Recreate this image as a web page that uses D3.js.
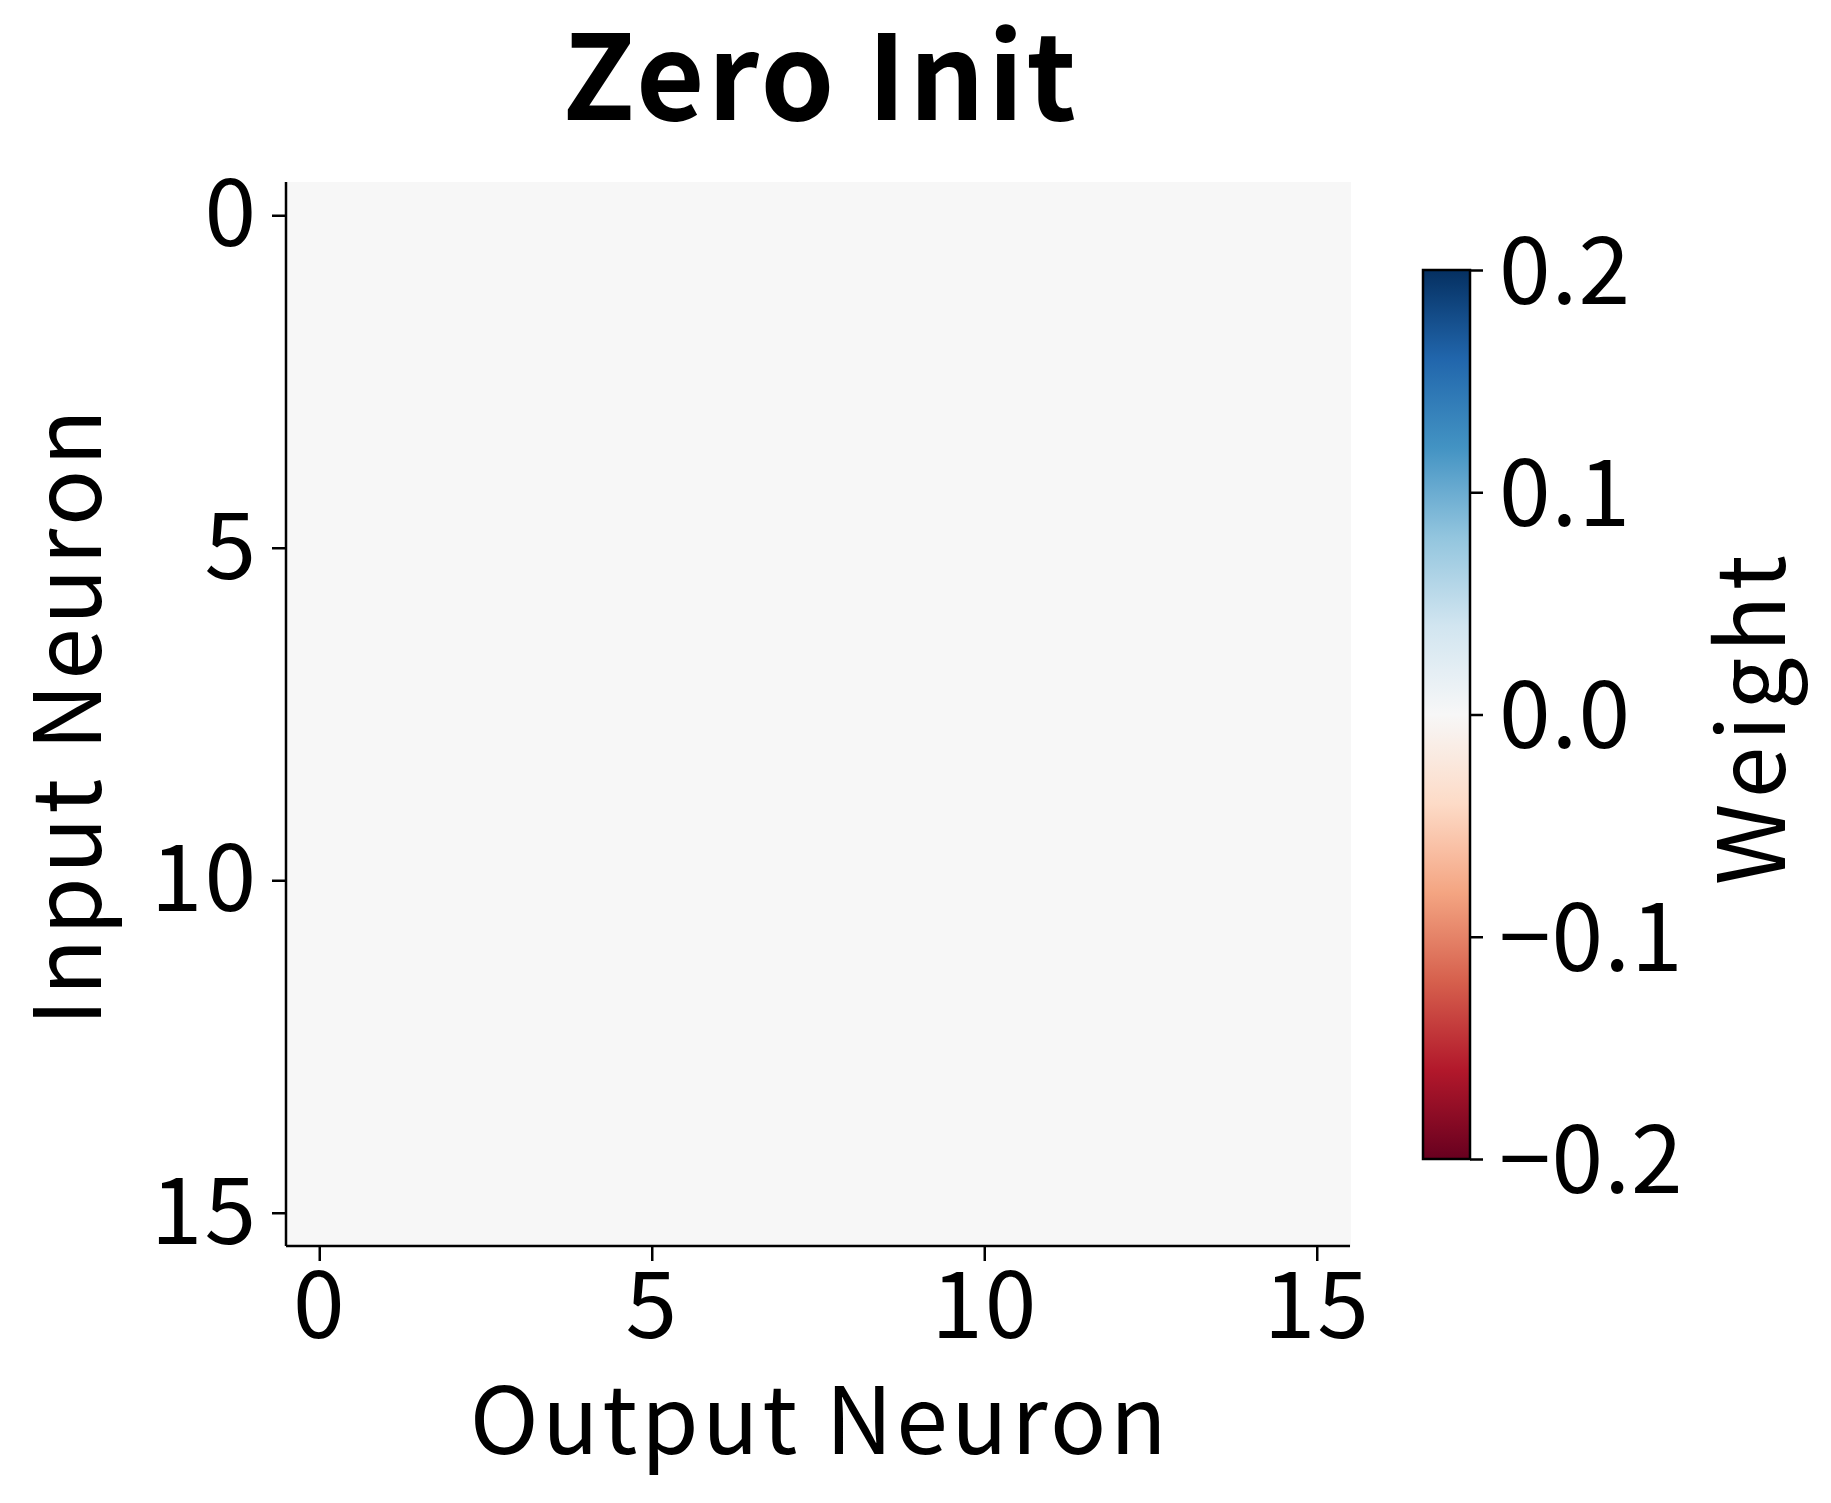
<!DOCTYPE html>
<html><head><meta charset="utf-8">
<script src="https://cdn.jsdelivr.net/npm/d3@7"></script>
<style>body{margin:0;background:#fff}svg{display:block}text{font-family:"Noto Sans CJK JP","Noto Sans",sans-serif;fill:#000}</style>
</head><body>
<script>
const title = "Zero Init";
const xLabel = "Output Neuron";
const yLabel = "Input Neuron";
const cbLabel = "Weight";
const xTicks = [0, 5, 10, 15];
const yTicks = [0, 5, 10, 15];
const cbTicks = [-0.2, -0.1, 0.0, 0.1, 0.2];
const cbDomain = [-0.2, 0.2];
const rdbuColors = ["#67001f","#b2182b","#d6604d","#f4a582","#fddbc7","#f7f7f7","#d1e5f0","#92c5de","#4393c3","#2166ac","#053061"];
const weights = [
[0,0,0,0,0,0,0,0,0,0,0,0,0,0,0,0],
[0,0,0,0,0,0,0,0,0,0,0,0,0,0,0,0],
[0,0,0,0,0,0,0,0,0,0,0,0,0,0,0,0],
[0,0,0,0,0,0,0,0,0,0,0,0,0,0,0,0],
[0,0,0,0,0,0,0,0,0,0,0,0,0,0,0,0],
[0,0,0,0,0,0,0,0,0,0,0,0,0,0,0,0],
[0,0,0,0,0,0,0,0,0,0,0,0,0,0,0,0],
[0,0,0,0,0,0,0,0,0,0,0,0,0,0,0,0],
[0,0,0,0,0,0,0,0,0,0,0,0,0,0,0,0],
[0,0,0,0,0,0,0,0,0,0,0,0,0,0,0,0],
[0,0,0,0,0,0,0,0,0,0,0,0,0,0,0,0],
[0,0,0,0,0,0,0,0,0,0,0,0,0,0,0,0],
[0,0,0,0,0,0,0,0,0,0,0,0,0,0,0,0],
[0,0,0,0,0,0,0,0,0,0,0,0,0,0,0,0],
[0,0,0,0,0,0,0,0,0,0,0,0,0,0,0,0],
[0,0,0,0,0,0,0,0,0,0,0,0,0,0,0,0]
];

const W = 1831, H = 1503;
const svg = d3.select("body").append("svg").attr("width", W).attr("height", H);
const n = weights.length;
const L = 286, R = 1350, T = 182, B = 1246;
const x = d3.scaleLinear().domain([-0.5, n - 0.5]).range([L, R]);
const y = d3.scaleLinear().domain([-0.5, n - 0.5]).range([T, B]);
const interp = d3.piecewise(d3.interpolateRgb, rdbuColors);
const color = d3.scaleSequential(interp).domain(cbDomain);

const cells = [];
weights.forEach((row, i) => row.forEach((v, j) => cells.push({i, j, v})));
svg.append("g").selectAll("rect").data(cells).join("rect")
  .attr("x", d => x(d.j - 0.5)).attr("y", d => y(d.i - 0.5))
  .attr("width", x(1) - x(0) + 0.5).attr("height", y(1) - y(0) + 0.5)
  .attr("fill", d => color(d.v)).attr("shape-rendering", "crispEdges");

const fs = 93;
const FF = '"Noto Sans CJK JP","Noto Sans",sans-serif';
const xAxis = svg.append("g").attr("transform", `translate(0,${B})`)
  .call(d3.axisBottom(x).tickValues(xTicks).tickSize(15).tickPadding(8).tickSizeOuter(0));
const yAxis = svg.append("g").attr("transform", `translate(${L},0)`)
  .call(d3.axisLeft(y).tickValues(yTicks).tickSize(14).tickPadding(14).tickSizeOuter(0));
[xAxis, yAxis].forEach(a => {
  a.select(".domain").attr("stroke", "#000").attr("stroke-width", 2.5);
  a.selectAll(".tick line").attr("stroke", "#000").attr("stroke-width", 2.5);
  a.selectAll("text").style("font-size", fs + "px").attr("fill", "#000")
    .style("font-family", FF).style("letter-spacing", "2px");
});
xAxis.select(".domain").attr("d", `M${L},0H${R}`);
yAxis.select(".domain").attr("d", `M0,${T}V${B}`);
xAxis.selectAll("text").attr("dy", null).attr("y", 92);
yAxis.selectAll("text").attr("dy", "0.33em");

// title
svg.append("text").attr("x", (L + R) / 2 + 3).attr("y", 120)
  .attr("text-anchor", "middle").style("font-size", "118px").style("font-weight", "bold")
  .style("letter-spacing", "3px").text(title);
// axis labels
svg.append("text").attr("x", (L + R) / 2 + 2).attr("y", 1454)
  .attr("text-anchor", "middle").style("font-size", fs + "px").style("letter-spacing", "3.6px").text(xLabel);
svg.append("text").attr("transform", `translate(101,${(T + B) / 2 + 2}) rotate(-90)`)
  .attr("text-anchor", "middle").style("font-size", fs + "px").style("letter-spacing", "3.6px").text(yLabel);

// colorbar
const cbL = 1423, cbR = 1470, cbT = 270, cbB = 1159;
const cy = d3.scaleLinear().domain(cbDomain).range([cbB, cbT]);
const defs = svg.append("defs");
const grad = defs.append("linearGradient").attr("id", "cbg").attr("x1", 0).attr("y1", 1).attr("x2", 0).attr("y2", 0);
d3.range(0, 1.0001, 0.05).forEach(t => grad.append("stop").attr("offset", t).attr("stop-color", interp(t)));
svg.append("rect").attr("x", cbL).attr("y", cbT).attr("width", cbR - cbL).attr("height", cbB - cbT)
  .attr("fill", "url(#cbg)").attr("stroke", "#000").attr("stroke-width", 2.5);
const cbAxis = svg.append("g").attr("transform", `translate(${cbR},0)`)
  .call(d3.axisRight(cy).tickValues(cbTicks).tickSize(13).tickPadding(16).tickSizeOuter(0)
    .tickFormat(d => d3.format(".1f")(d).replace("-", "\u2212")));
cbAxis.select(".domain").remove();
cbAxis.selectAll(".tick line").attr("stroke", "#000").attr("stroke-width", 2.5);
cbAxis.selectAll("text").style("font-size", fs + "px").attr("fill", "#000").attr("dy", "0.36em")
  .style("font-family", FF).style("letter-spacing", "1px");
svg.append("text").attr("transform", `translate(1785,${(cbT + cbB) / 2 + 3}) rotate(-90)`)
  .attr("text-anchor", "middle").style("font-size", fs + "px").style("letter-spacing", "5.5px").text(cbLabel);
</script>
</body></html>
